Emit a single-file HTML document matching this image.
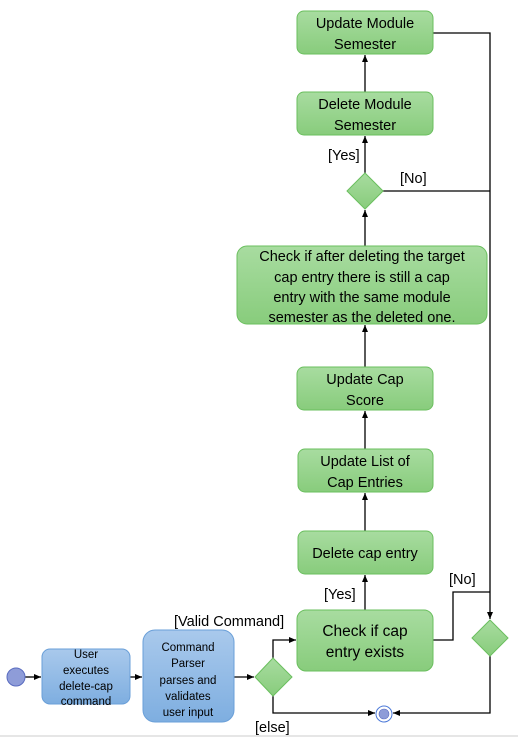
<!DOCTYPE html>
<html><head><style>
html,body{margin:0;padding:0;background:#fff;width:518px;height:740px;overflow:hidden}
text{font-family:"Liberation Sans",sans-serif;fill:#000}
</style></head><body>
<svg width="518" height="740" xmlns="http://www.w3.org/2000/svg">
<defs>
<linearGradient id="g" x1="0" y1="0" x2="0" y2="1"><stop offset="0" stop-color="#a8dca0"/><stop offset="1" stop-color="#88cc7c"/></linearGradient>
<linearGradient id="b" x1="0" y1="0" x2="0" y2="1"><stop offset="0" stop-color="#a9c9ec"/><stop offset="1" stop-color="#7eaee0"/></linearGradient>
<marker id="a" markerWidth="8" markerHeight="8" refX="7" refY="4" orient="auto" markerUnits="userSpaceOnUse"><path d="M0,1 L7,4 L0,7 Z" fill="#000"/></marker>
</defs>
<g stroke="#000" stroke-width="1.3" fill="none">
<line x1="365" y1="92" x2="365" y2="55" marker-end="url(#a)"/>
<line x1="365" y1="173" x2="365" y2="136" marker-end="url(#a)"/>
<line x1="365" y1="246" x2="365" y2="210" marker-end="url(#a)"/>
<line x1="365" y1="367" x2="365" y2="325" marker-end="url(#a)"/>
<line x1="365" y1="449" x2="365" y2="411" marker-end="url(#a)"/>
<line x1="365" y1="531" x2="365" y2="493" marker-end="url(#a)"/>
<line x1="365" y1="610" x2="365" y2="575" marker-end="url(#a)"/>
<polyline points="433,33 490,33 490,619" marker-end="url(#a)"/>
<line x1="383" y1="191" x2="490" y2="191"/>
<polyline points="433,640 453,640 453,592 490,592"/>
<polyline points="490,656 490,713 393,713" marker-end="url(#a)"/>
<polyline points="273,694 273,713 375,713" marker-end="url(#a)"/>
<polyline points="273,658 273,640 296,640" marker-end="url(#a)"/>
<line x1="25" y1="677" x2="41" y2="677" marker-end="url(#a)"/>
<line x1="130" y1="677" x2="142" y2="677" marker-end="url(#a)"/>
<line x1="234" y1="677" x2="254" y2="677" marker-end="url(#a)"/>
</g>
<g stroke="#6abf5e" stroke-width="1" fill="url(#g)">
<rect x="297" y="11" width="136" height="43" rx="7"/>
<rect x="297" y="92" width="136" height="43" rx="7"/>
<rect x="237" y="246" width="250" height="78" rx="10"/>
<rect x="297" y="367" width="136" height="43" rx="7"/>
<rect x="298" y="449" width="135" height="43" rx="7"/>
<rect x="298" y="531" width="135" height="43" rx="7"/>
<rect x="297" y="610" width="136" height="61" rx="9"/>
<polygon points="365,173 383,191 365,209 347,191"/>
<polygon points="273,658 292,677 273,696 255,677"/>
<polygon points="490,620 508,638 490,656 472,638"/>
</g>
<g stroke="#6a9fd8" stroke-width="1" fill="url(#b)">
<rect x="42" y="649" width="88" height="55" rx="8"/>
<rect x="143" y="630" width="91" height="92" rx="12"/>
</g>
<circle cx="16" cy="677" r="9" fill="#8e9cd8" stroke="#5a6cc0"/>
<circle cx="384" cy="714" r="8" fill="#fff" stroke="#4a78d8"/>
<circle cx="384" cy="714" r="5" fill="#8e9cd8" stroke="#5a6cc0" stroke-width="0.6"/>
<line x1="0" y1="736" x2="518" y2="736" stroke="#ccc" stroke-width="1"/>
<g font-size="14.5" text-anchor="middle">
<text x="365" y="28">Update Module</text><text x="365" y="49">Semester</text>
<text x="365" y="109">Delete Module</text><text x="365" y="130">Semester</text>
<text x="362" y="261">Check if after deleting the target</text>
<text x="362" y="282">cap entry there is still a cap</text>
<text x="362" y="302">entry with the same module</text>
<text x="362" y="322">semester as the deleted one.</text>
<text x="365" y="384">Update Cap</text><text x="365" y="405">Score</text>
<text x="365" y="466">Update List of</text><text x="365" y="487">Cap Entries</text>
<text x="365" y="558">Delete cap entry</text>
<text x="365" y="636" font-size="15.5">Check if cap</text><text x="365" y="657" font-size="15.5">entry exists</text>
</g>
<g font-size="14.5">
<text x="328" y="160">[Yes]</text>
<text x="400" y="183">[No]</text>
<text x="324" y="599">[Yes]</text>
<text x="449" y="584">[No]</text>
<text x="174" y="626">[Valid Command]</text>
<text x="255" y="732">[else]</text>
</g>
<g font-size="11.5" text-anchor="middle">
<text x="86" y="658">User</text><text x="86" y="674">executes</text><text x="86" y="690">delete-cap</text><text x="86" y="705">command</text>
<text x="188" y="651">Command</text><text x="188" y="667">Parser</text><text x="188" y="684">parses and</text><text x="188" y="700">validates</text><text x="188" y="716">user input</text>
</g>
</svg>
</body></html>
